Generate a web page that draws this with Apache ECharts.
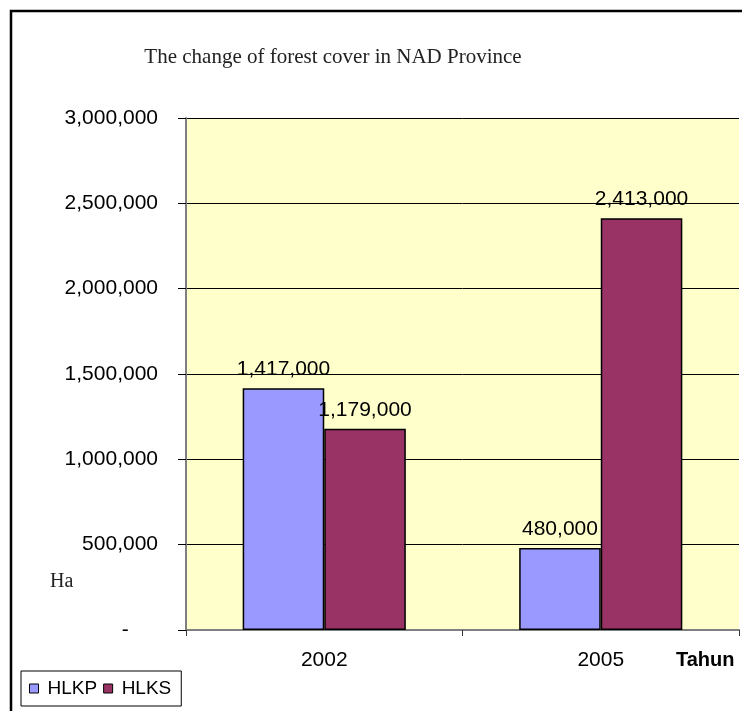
<!DOCTYPE html>
<html>
<head>
<meta charset="utf-8">
<script src="https://cdn.jsdelivr.net/npm/echarts@6/dist/echarts.min.js"></script>
<style>
html,body{margin:0;padding:0;background:#fff;}
#chart{width:742px;height:711px;}
</style>
</head>
<body>
<div id="chart"></div>
<script>
const categories = ['2002', '2005'];
const hlkp = [1417000, 480000];
const hlks = [1179000, 2413000];
const seriesNames = ['HLKP', 'HLKS'];
const titleText = 'The change of forest cover in NAD Province';
const yUnit = 'Ha';
const xUnit = 'Tahun';

const fmt = v => v === 0 ? '-     ' : v.toLocaleString('en-US');
const sans = 'Liberation Sans, Arial, sans-serif';
const serif = 'Liberation Serif, Times New Roman, serif';

const chart = echarts.init(document.getElementById('chart'));
chart.setOption({
  backgroundColor: '#ffffff',
  animation: false,
  title: {
    text: titleText,
    left: 328, top: 42, textAlign: 'center',
    textStyle: { fontFamily: serif, fontSize: 21, fontWeight: 'normal', color: '#222' }
  },
  legend: {
    left: 21, top: 671,
    padding: [8, 10, 8, 8],
    borderColor: '#000', borderWidth: 1,
    itemWidth: 9, itemHeight: 9, itemGap: 6,
    icon: 'rect',
    itemStyle: { borderColor: '#000', borderWidth: 1 },
    textStyle: { fontFamily: sans, fontSize: 19, color: '#000', padding: [0, 0, 0, 4] },
    data: seriesNames
  },
  grid: {
    left: 186, right: 3, top: 118, bottom: 81,
    show: true, backgroundColor: '#FFFFCC', borderWidth: 0
  },
  xAxis: {
    type: 'category',
    data: categories,
    axisLine: { lineStyle: { color: '#808080', width: 2 } },
    axisTick: { show: true, length: 6, lineStyle: { color: '#333', width: 1 } },
    axisLabel: { margin: 20, fontFamily: sans, fontSize: 21, color: '#000' },
    splitLine: { show: false }
  },
  yAxis: {
    type: 'value',
    min: 0, max: 3000000, interval: 500000,
    axisLine: { show: true, lineStyle: { color: '#808080', width: 2 } },
    axisTick: { show: true, length: 8, lineStyle: { color: '#000', width: 1 } },
    axisLabel: { margin: 28, fontFamily: sans, fontSize: 21, color: '#000', formatter: fmt },
    splitLine: { show: true, lineStyle: { color: '#000', width: 1 } }
  },
  series: [
    {
      name: seriesNames[0], type: 'bar', data: hlkp,
      barGap: '0%', barCategoryGap: '41%',
      itemStyle: { color: '#9999FF', borderColor: '#000', borderWidth: 1.5 },
      label: { show: true, position: 'top', distance: 8, fontFamily: sans, fontSize: 21, color: '#000', formatter: p => fmt(p.value) }
    },
    {
      name: seriesNames[1], type: 'bar', data: hlks,
      itemStyle: { color: '#993366', borderColor: '#000', borderWidth: 1.5 },
      label: { show: true, position: 'top', distance: 8, fontFamily: sans, fontSize: 21, color: '#000', formatter: p => fmt(p.value) }
    }
  ],
  graphic: [
    { type: 'rect', shape: { x: 11, y: 11, width: 900, height: 900 }, style: { fill: 'none', stroke: '#000', lineWidth: 2.5 }, silent: true },
    { type: 'text', left: 50, top: 572, style: { text: yUnit, font: '20px ' + serif, fill: '#222' } },
    { type: 'text', left: 676, top: 650, style: { text: xUnit, font: 'bold 20px ' + sans, fill: '#000' } }
  ]
});
</script>
</body>
</html>
